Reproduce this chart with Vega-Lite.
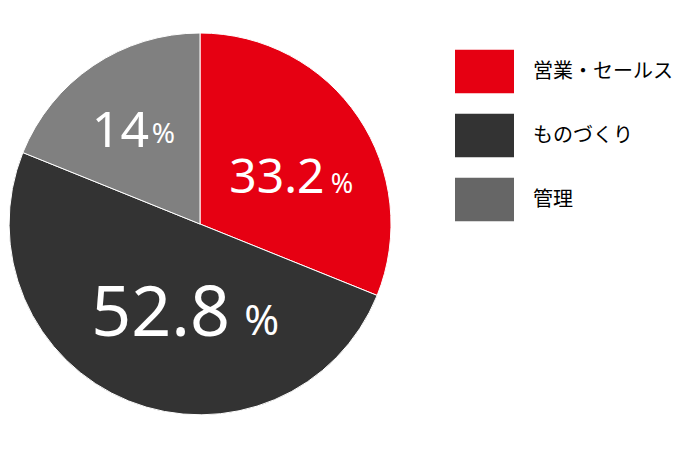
{
  "$schema": "https://vega.github.io/schema/vega-lite/v6.json",
  "width": 400,
  "height": 448,
  "padding": 0,
  "background": "white",
  "config": {"view": {"stroke": null}},
  "data": {"values": [
    {"cat": "営業・セールス", "value": 31.1, "ord": 1, "label": "33.2"},
    {"cat": "ものづくり", "value": 50.0, "ord": 2, "label": "52.8"},
    {"cat": "管理", "value": 18.9, "ord": 3, "label": "14"}
  ]},
  "encoding": {
    "theta": {"field": "value", "type": "quantitative", "stack": true},
    "order": {"field": "ord", "type": "quantitative"}
  },
  "layer": [
    {
      "mark": {"type": "arc", "outerRadius": 191, "stroke": "white", "strokeWidth": 1},
      "encoding": {
        "fill": {
          "field": "ord", "type": "nominal",
          "scale": {"domain": [1, 2, 3], "range": ["#e60012", "#333333", "#808080"]},
          "legend": null
        }
      }
    },
    {
      "mark": {"type": "text"},
      "encoding": {
        "text": {"value": ""},
        "color": {
          "field": "cat", "type": "nominal",
          "scale": {"domain": ["営業・セールス", "ものづくり", "管理"], "range": ["#e60012", "#333333", "#666666"]},
          "legend": {
            "title": null,
            "orient": "none",
            "legendX": 455,
            "legendY": 42,
            "symbolType": "M-1,-0.737H1V0.737H-1Z",
            "symbolSize": 3481,
            "symbolStrokeWidth": 0,
            "symbolOpacity": 1,
            "labelFont": "Noto Sans CJK JP",
            "labelFontSize": 20,
            "labelColor": "#000000",
            "labelOffset": 19,
            "rowPadding": 12,
            "padding": 0
          }
        }
      }
    },
    {
      "mark": {"type": "text", "radius": 100, "dx": -6, "dy": 25, "fontSize": 48, "font": "Noto Sans", "color": "white", "align": "center", "baseline": "alphabetic"},
      "encoding": {"detail": {"field": "cat"}, "text": {"condition": {"test": "datum.cat === '営業・セールス'", "field": "label"}, "value": ""}}
    },
    {
      "mark": {"type": "text", "radius": 100, "dx": 59, "dy": 25, "fontSize": 27, "font": "Noto Sans", "color": "white", "align": "center", "baseline": "alphabetic"},
      "encoding": {"detail": {"field": "cat"}, "text": {"condition": {"test": "datum.cat === '営業・セールス'", "value": "%"}, "value": ""}}
    },
    {
      "mark": {"type": "text", "radius": 100, "dx": -2, "dy": 19, "fontSize": 70, "font": "Noto Sans", "color": "white", "align": "center", "baseline": "alphabetic"},
      "encoding": {"detail": {"field": "cat"}, "text": {"condition": {"test": "datum.cat === 'ものづくり'", "field": "label"}, "value": ""}}
    },
    {
      "mark": {"type": "text", "radius": 100, "dx": 99, "dy": 18, "fontSize": 42, "font": "Noto Sans", "color": "white", "align": "center", "baseline": "alphabetic"},
      "encoding": {"detail": {"field": "cat"}, "text": {"condition": {"test": "datum.cat === 'ものづくり'", "value": "%"}, "value": ""}}
    },
    {
      "mark": {"type": "text", "radius": 110, "dx": -18, "dy": 14, "fontSize": 50, "font": "Noto Sans", "color": "white", "align": "center", "baseline": "alphabetic"},
      "encoding": {"detail": {"field": "cat"}, "text": {"condition": {"test": "datum.cat === '管理'", "field": "label"}, "value": ""}}
    },
    {
      "mark": {"type": "text", "radius": 110, "dx": 25, "dy": 10, "fontSize": 28, "font": "Noto Sans", "color": "white", "align": "center", "baseline": "alphabetic"},
      "encoding": {"detail": {"field": "cat"}, "text": {"condition": {"test": "datum.cat === '管理'", "value": "%"}, "value": ""}}
    }
  ]
}
